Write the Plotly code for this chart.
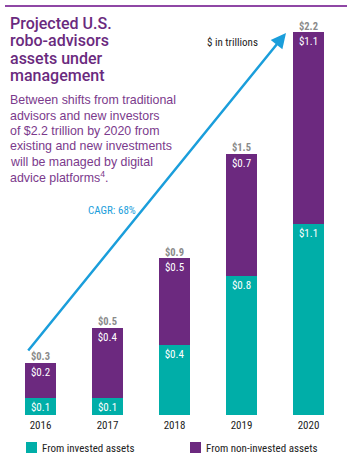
import plotly.graph_objects as go

# ---- data ----
years = ["2016", "2017", "2018", "2019", "2020"]
invested = [0.1, 0.1, 0.4, 0.8, 1.1]
non_invested = [0.2, 0.4, 0.5, 0.7, 1.1]
totals = [0.3, 0.5, 0.9, 1.5, 2.2]
series_names = ["From invested assets", "From non-invested assets"]

title_lines = ["Projected U.S.", "robo-advisors", "assets under", "management"]
sub_lines = [
    "Between shifts from traditional",
    "advisors and new investors",
    "of $2.2 trillion by 2020 from",
    "existing and new investments",
    "will be managed by digital",
    "advice platforms<sup>4</sup>.",
]
cagr_text = "CAGR: 68%"
unit_text = "$ in trillions"

TEAL = "#00aea8"
PURPLE = "#6c297f"
TITLE_C = "#6a2a7e"
SUB_C = "#7b3a8c"
BLUE = "#1a9edb"
GRAY = "#8a8a8a"
RULE_C = "#8f47a5"
NARROW = "Roboto Condensed, Open Sans Condensed, Liberation Sans Narrow, Arial Narrow, DejaVu Sans Condensed, sans-serif"
SANS = "Liberation Sans, Arial, Helvetica, sans-serif"
TITLE_FONT = "Roboto, Liberation Sans, Arial, sans-serif"

W, H = 355, 464
PX_PER_UNIT = 174.0
BASE = 415  # pixel row of zero
STEP = 67.0
X0 = 40.5


def px_to_x(px):
    return (px - X0) / STEP


def py_to_y(py):
    return (BASE - py) / PX_PER_UNIT


fig = go.Figure()
fig.add_trace(go.Bar(
    x=years, y=invested, name=series_names[0], marker=dict(color=TEAL, line=dict(width=0)),
    text=[f"${v:.1f}" for v in invested], textposition="inside", insidetextanchor="end",
    textfont=dict(color="white", size=11, family=NARROW), textangle=0, hoverinfo="skip",
))
fig.add_trace(go.Bar(
    x=years, y=non_invested, name=series_names[1], marker=dict(color=PURPLE, line=dict(width=0)),
    text=[f"${v:.1f}" for v in non_invested], textposition="inside", insidetextanchor="end",
    textfont=dict(color="white", size=11, family=NARROW), textangle=0, hoverinfo="skip",
))
fig.add_trace(go.Scatter(
    x=years, y=totals, mode="text", text=[f"<b>${t:.1f}</b>" for t in totals],
    textposition="top center", textfont=dict(size=10.5, color=GRAY, family=NARROW),
    hoverinfo="skip", showlegend=False,
))

ann = []
# title
for i, line in enumerate(title_lines):
    ann.append(dict(x=7.5 / W, y=1 - (23.5 + i * 17.4) / H, xref="paper", yref="paper", text=line,
                    showarrow=False, xanchor="left", yanchor="middle",
                    font=dict(size=16, color=TITLE_C, family=TITLE_FONT, weight=500)))
for i, line in enumerate(sub_lines):
    ann.append(dict(x=7.5 / W, y=1 - (100.5 + i * 15.3) / H, xref="paper", yref="paper", text=line,
                    showarrow=False, xanchor="left", yanchor="middle",
                    font=dict(size=12.4, color=SUB_C, family=SANS)))

ann.append(dict(x=112 / W, y=1 - 210 / H, xref="paper", yref="paper", text=cagr_text, showarrow=False,
                xanchor="center", yanchor="middle", font=dict(size=11, color=BLUE, family=NARROW)))
ann.append(dict(x=232 / W, y=1 - 43 / H, xref="paper", yref="paper", text=unit_text, showarrow=False,
                xanchor="center", yanchor="middle", font=dict(size=11, color="#222", family=NARROW)))

# growth arrow
ann.append(dict(x=px_to_x(286), y=py_to_y(33), xref="x", yref="y",
                ax=px_to_x(27), ay=py_to_y(352), axref="x", ayref="y",
                showarrow=True, arrowhead=2, arrowsize=1.2, arrowwidth=2.5, arrowcolor=BLUE, text=""))

# top rule + legend (custom)
shapes = [dict(type="rect", xref="paper", yref="paper", x0=5 / W, x1=347 / W,
               y0=1 - 7 / H, y1=1 - 5 / H, fillcolor=RULE_C, line=dict(width=0), layer="above")]
leg_x = [26, 190]
for name, col, lx in zip(series_names, [TEAL, PURPLE], leg_x):
    shapes.append(dict(type="rect", xref="paper", yref="paper", x0=lx / W, x1=(lx + 11) / W,
                       y0=1 - 453 / H, y1=1 - 442 / H, fillcolor=col, line=dict(width=0)))
    ann.append(dict(x=(lx + 14) / W, y=1 - 448 / H, xref="paper", yref="paper", text=name, showarrow=False,
                    xanchor="left", yanchor="middle", font=dict(size=11, color="#222", family=NARROW)))

fig.update_layout(
    width=W, height=H, margin=dict(l=0, r=0, t=0, b=0, autoexpand=False),
    paper_bgcolor="white", plot_bgcolor="white",
    barmode="stack", bargap=1 - 31 / 67, showlegend=False,
    uniformtext=dict(minsize=10.5, mode="show"),
    xaxis=dict(type="category", range=[px_to_x(0), px_to_x(W)], showgrid=False, zeroline=False,
               showline=False, automargin=False, ticklabelstandoff=2,
               ticks="", tickfont=dict(size=11, color="#222", family=NARROW), fixedrange=True),
    yaxis=dict(domain=[(H - BASE) / H, 1], range=[0, BASE / PX_PER_UNIT], showgrid=False, zeroline=False,
               showticklabels=False, showline=False, automargin=False, fixedrange=True),
    annotations=ann, shapes=shapes,
)
fig.write_html("out.html", config={"displayModeBar": False},
               post_script="document.body.style.margin='0';document.body.style.overflow='hidden';")
